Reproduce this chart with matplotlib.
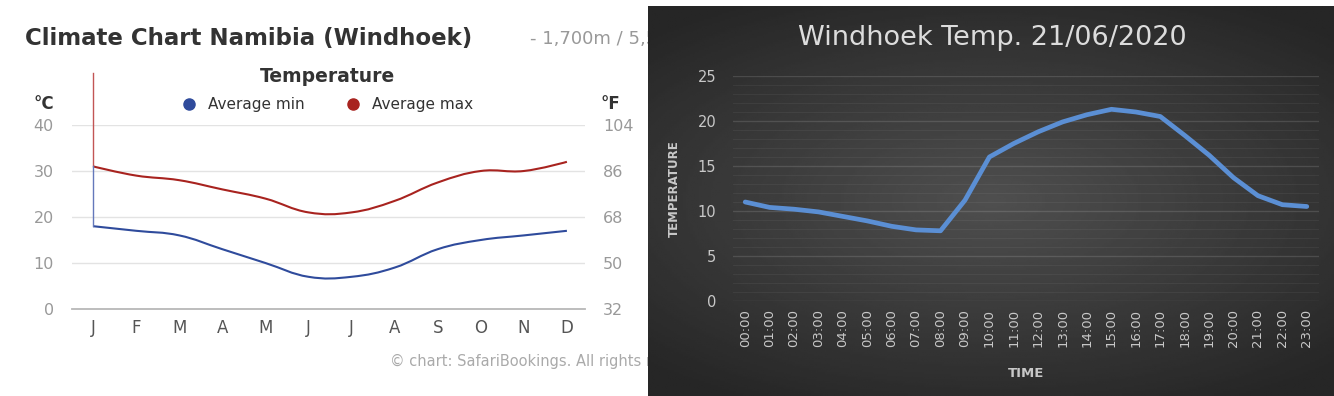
import numpy as np
import matplotlib
matplotlib.use('Agg')
import matplotlib.pyplot as plt
from matplotlib.path import Path
from matplotlib.patches import PathPatch
from matplotlib.lines import Line2D

# climate chart (left)
months = ['J', 'F', 'M', 'A', 'M', 'J', 'J', 'A', 'S', 'O', 'N', 'D']
avg_min = [18, 17, 16, 13, 10, 7, 7, 9, 13, 15, 16, 17]
avg_max = [31, 29, 28, 26, 24, 21, 21, 23.5, 27.5, 30, 30, 32]
celsius_ticks = [0, 10, 20, 30, 40]
fahrenheit_ticks = [32, 50, 68, 86, 104]
cursor_top = 51.3

# hourly temperature (right)
hours = ['00:00', '01:00', '02:00', '03:00', '04:00', '05:00', '06:00', '07:00',
         '08:00', '09:00', '10:00', '11:00', '12:00', '13:00', '14:00', '15:00',
         '16:00', '17:00', '18:00', '19:00', '20:00', '21:00', '22:00', '23:00']
hourly_temp = [11.0, 10.4, 10.2, 9.9, 9.4, 8.9, 8.3, 7.9, 7.8, 11.2, 16.0, 17.5,
               18.8, 19.9, 20.7, 21.3, 21.0, 20.5, 18.4, 16.2, 13.7, 11.7, 10.7, 10.5]

W, H = 1334, 396
BLUE = '#2f4b9c'
RED = '#a8231f'


def spline_path(xs, ys, smoothing=1.5):
    """Smooth bezier path through the points (highcharts style)."""
    denom = smoothing + 1
    n = len(xs)
    left, right = [], []
    for i in range(n):
        if 0 < i < n - 1:
            lcx = (smoothing * xs[i] + xs[i - 1]) / denom
            lcy = (smoothing * ys[i] + ys[i - 1]) / denom
            rcx = (smoothing * xs[i] + xs[i + 1]) / denom
            rcy = (smoothing * ys[i] + ys[i + 1]) / denom
            corr = (rcy - lcy) * (rcx - xs[i]) / (rcx - lcx) + ys[i] - rcy
            left.append((lcx, lcy + corr))
            right.append((rcx, rcy + corr))
        else:
            left.append((xs[i], ys[i]))
            right.append((xs[i], ys[i]))
    verts = [(xs[0], ys[0])]
    codes = [Path.MOVETO]
    for i in range(1, n):
        verts += [right[i - 1], left[i], (xs[i], ys[i])]
        codes += [Path.CURVE4] * 3
    return Path(verts, codes)


fig = plt.figure(figsize=(W / 100, H / 100), dpi=100)
fig.patch.set_facecolor('white')

# ---------------- left chart ----------------
ax = fig.add_axes([72 / W, 1 - 309 / H, 513 / W, 184 / H])
x = np.arange(len(months))
ax.add_patch(PathPatch(spline_path(x, avg_max), fill=False, edgecolor=RED, lw=1.5))
ax.add_patch(PathPatch(spline_path(x, avg_min), fill=False, edgecolor=BLUE, lw=1.5))
ax.plot([0, 0], [avg_max[0], cursor_top], color='#c25555', lw=1, clip_on=False)
ax.plot([0, 0], [avg_min[0], avg_max[0]], color='#6478bb', lw=1, clip_on=False)
ax.set_xlim(-0.49, 11.42)
ax.set_ylim(0, 40)
ax.set_xticks(x)
ax.set_xticklabels(months)
ax.set_yticks(celsius_ticks)
ax.grid(axis='y', color='#e3e3e3', lw=1)
ax.set_axisbelow(True)
for s in ['top', 'right', 'left']:
    ax.spines[s].set_visible(False)
ax.spines['bottom'].set_color('#b8b8b8')
ax.spines['bottom'].set_linewidth(1.3)
ax.tick_params(axis='x', length=0, pad=7, labelsize=12, labelcolor='#555555')
ax.tick_params(axis='y', length=0, pad=13, labelsize=11.5, labelcolor='#999999')

ax2 = ax.twinx()
ax2.set_ylim(32, 104)
ax2.set_yticks(fahrenheit_ticks)
for s in ax2.spines.values():
    s.set_visible(False)
ax2.tick_params(axis='y', length=0, pad=13, labelsize=11.5, labelcolor='#999999')

fig.text(25 / W, 1 - 38 / H, 'Climate Chart Namibia (Windhoek)', fontsize=16.5,
         fontweight='bold', color='#333333', va='center', zorder=1)
fig.text(530 / W, 1 - 39 / H, '- 1,700m / 5,577ft', fontsize=13, color='#999999',
         va='center', zorder=1)
fig.text(328 / W, 1 - 77 / H, 'Temperature', fontsize=13.5, fontweight='bold',
         color='#333333', ha='center', va='center', zorder=1)
fig.text(44 / W, 1 - 104 / H, '°C', fontsize=12, fontweight='bold', color='#333333',
         ha='center', va='center', zorder=1)
fig.text(610 / W, 1 - 104 / H, '°F', fontsize=12, fontweight='bold', color='#333333',
         ha='center', va='center', zorder=1)
fig.text(390 / W, 1 - 361 / H, '© chart: SafariBookings. All rights reserved.',
         fontsize=10.5, color='#aaaaaa', va='center', zorder=1)

handles = [Line2D([], [], marker='o', ls='none', color=BLUE, markersize=8),
           Line2D([], [], marker='o', ls='none', color=RED, markersize=8)]
ax.legend(handles, ['Average min', 'Average max'], loc='center', ncol=2,
          bbox_to_anchor=(328 / W, 1 - 105 / H), bbox_transform=fig.transFigure,
          frameon=False, fontsize=11, labelcolor='#333333', handlelength=0.8,
          handletextpad=0.8, columnspacing=2.8)

# ---------------- right chart ----------------
bg = fig.add_axes([648 / W, 0, 686 / W, 390 / H])
bg.set_zorder(5)
gx, gy = np.meshgrid(np.linspace(-1, 1, 300), np.linspace(-1, 1, 200))
r = np.sqrt((gx * 0.9) ** 2 + (gy * 1.1) ** 2)
shade = 0.31 - 0.16 * np.clip(r / 1.3, 0, 1)
bg.imshow(shade, cmap='gray', vmin=0, vmax=1, aspect='auto', extent=[0, 1, 0, 1])
bg.axis('off')

rx = fig.add_axes([733 / W, 1 - 301 / H, 586 / W, 225 / H])
rx.set_zorder(6)
rx.patch.set_alpha(0)
hx = np.arange(len(hours))
rx.plot(hx, hourly_temp, color='#5b8fd4', lw=3.4, solid_joinstyle='round',
        solid_capstyle='round')
rx.set_xlim(-0.5, 23.5)
rx.set_ylim(0, 25)
rx.set_yticks(np.arange(0, 26, 5))
rx.set_yticks(np.arange(0, 26, 1), minor=True)
rx.set_xticks(hx)
rx.set_xticklabels(hours, rotation=90)
rx.grid(axis='y', which='major', color='white', alpha=0.13, lw=1)
rx.grid(axis='y', which='minor', color='white', alpha=0.05, lw=0.8)
rx.set_axisbelow(True)
for s in rx.spines.values():
    s.set_visible(False)
rx.tick_params(axis='both', which='both', length=0)
rx.tick_params(axis='x', pad=6, labelsize=9.5, labelcolor='#c8c8c8')
rx.tick_params(axis='y', pad=12, labelsize=10.5, labelcolor='#c8c8c8')
rx.set_xlabel('TIME', fontsize=9.5, fontweight='bold', color='#c8c8c8', labelpad=14)
rx.set_ylabel('TEMPERATURE', fontsize=8.5, fontweight='bold', color='#c8c8c8', labelpad=12)

fig.text(992 / W, 1 - 38 / H, 'Windhoek Temp. 21/06/2020', fontsize=19.5,
         color='#dcdcdc', ha='center', va='center', zorder=10)

fig.savefig('out.png', dpi=100)
